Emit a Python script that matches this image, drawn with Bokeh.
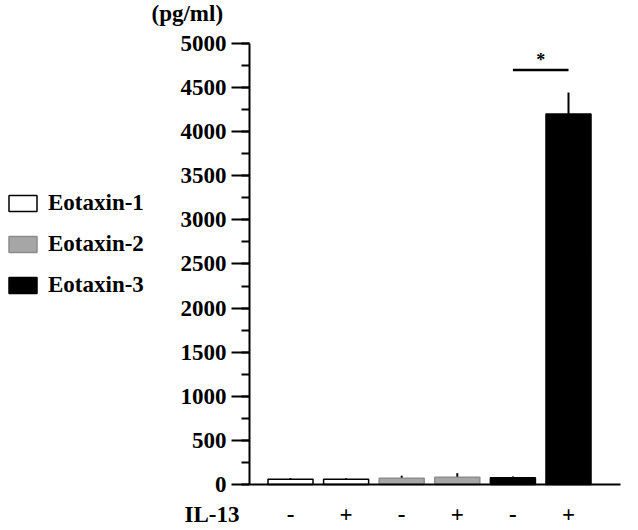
from bokeh.plotting import figure
from bokeh.models import (Range1d, FixedTicker, SingleIntervalTicker, Label,
                          Legend, LegendItem, ColumnDataSource, LinearAxis)
from bokeh.embed import file_html
from bokeh.resources import INLINE

# ---- data ----
groups = ["Eotaxin-1", "Eotaxin-1", "Eotaxin-2", "Eotaxin-2", "Eotaxin-3", "Eotaxin-3"]
il13 = ["-", "+", "-", "+", "-", "+"]
means = [60, 60, 70, 83, 76, 4200]
errors = [12, 10, 30, 45, 15, 245]
series = ["Eotaxin-1", "Eotaxin-2", "Eotaxin-3"]
fills = ["#ffffff", "#a6a6a6", "#000000"]
outlines = ["#000000", "#8c8c8c", "#000000"]
sig_pair = [4, 5]
sig_y = 4700
sig_text = "*"
y_max = 5000
y_interval = 500
unit_label = "(pg/ml)"
x_title = "IL-13"

FONT = "Liberation Serif"
FS = "23px"

positions = list(range(len(means)))

W, H = 638, 530
p = figure(width=W, height=H, output_backend="svg", toolbar_location=None,
           x_range=Range1d(-5.216, 6.259), y_range=Range1d(-521.6, 5487.5),
           x_axis_location=None, y_axis_location=None,
           min_border=0, min_border_left=0, min_border_right=0,
           min_border_top=0, min_border_bottom=0)
p.outline_line_color = None
p.xgrid.visible = False
p.ygrid.visible = False
p.background_fill_color = "white"
p.border_fill_color = "white"

items = []
for s, fc, lc in zip(series, fills, outlines):
    xs = [x for x, g in zip(positions, groups) if g == s]
    ys = [m for m, g in zip(means, groups) if g == s]
    es = [e for e, g in zip(errors, groups) if g == s]
    src = ColumnDataSource(dict(x=xs, top=ys, err_top=[m + e for m, e in zip(ys, es)]))
    p.segment(x0="x", y0="top", x1="x", y1="err_top", source=src,
              line_color="black", line_width=2)
    r = p.vbar(x="x", top="top", bottom=0, width=0.81, source=src,
               fill_color=fc, line_color=lc, line_width=1.5)
    items.append(LegendItem(label=s, renderers=[r]))

# significance bar
p.line(x=sig_pair, y=[sig_y, sig_y], line_color="black", line_width=2.5)
p.add_layout(Label(x=sum(sig_pair) / 2, y=sig_y, text=sig_text,
                   text_align="center", text_baseline="bottom", text_color="black",
                   text_font=FONT, text_font_size="18px", text_font_style="bold"))

# y axis (fixed at the left end of the bar region)
x_left = -0.737
x_right = 5.935
ya = LinearAxis(fixed_location=x_left, bounds=(0, y_max))
ya.ticker = SingleIntervalTicker(interval=y_interval, num_minor_ticks=2)
ya.axis_line_width = 2
ya.major_tick_line_width = 2
ya.minor_tick_line_width = 2
ya.major_tick_in = 0
ya.major_tick_out = 18
ya.minor_tick_in = 0
ya.minor_tick_out = 8
ya.major_label_standoff = 5
ya.major_label_text_font = FONT
ya.major_label_text_font_size = FS
ya.major_label_text_font_style = "bold"
ya.major_label_text_color = "black"
p.add_layout(ya, "left")

# x axis
xa = LinearAxis(fixed_location=0, bounds=(x_left, x_right))
xa.ticker = FixedTicker(ticks=positions)
xa.major_label_overrides = {i: t for i, t in zip(positions, il13)}
xa.axis_line_width = 2
xa.major_tick_in = 0
xa.major_tick_out = 0
xa.minor_tick_line_color = None
xa.major_label_standoff = 23
xa.major_label_text_font = FONT
xa.major_label_text_font_size = FS
xa.major_label_text_font_style = "bold"
xa.major_label_text_color = "black"
p.add_layout(xa, "below")

# texts (screen units, frame = whole canvas)
p.add_layout(Label(x=151, y=H - 13, x_units="screen", y_units="screen", text=unit_label,
                   text_align="left", text_baseline="middle", text_color="black",
                   text_font=FONT, text_font_size=FS, text_font_style="bold"))
p.add_layout(Label(x=184, y=H - 514, x_units="screen", y_units="screen", text=x_title,
                   text_align="left", text_baseline="middle", text_color="black",
                   text_font=FONT, text_font_size=FS, text_font_style="bold"))

legend = Legend(items=items, location=(5, 232), padding=0, margin=0,
                border_line_color=None, background_fill_alpha=0,
                glyph_width=35, glyph_height=20, label_height=24, spacing=15,
                label_standoff=8, label_text_font=FONT, label_text_font_size=FS,
                label_text_font_style="bold", label_text_color="black")
p.add_layout(legend)

open("out.html", "w").write(file_html(p, INLINE))
